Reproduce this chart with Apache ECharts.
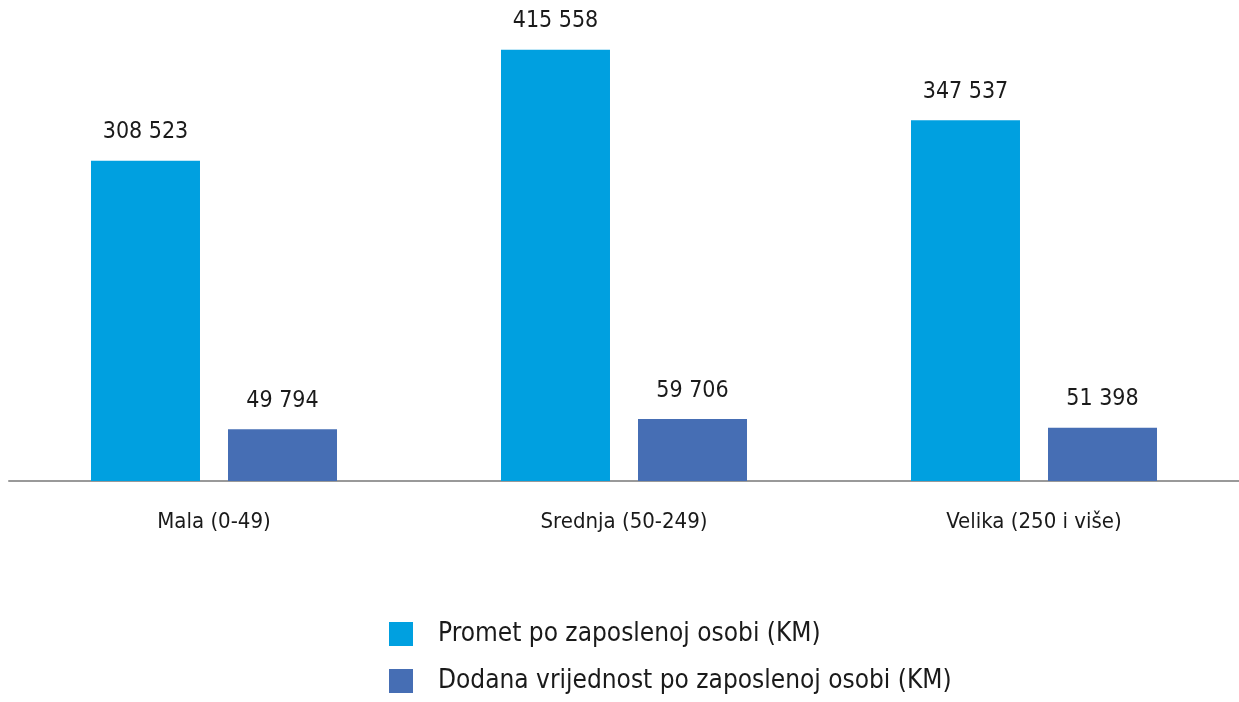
<!DOCTYPE html>
<html>
<head>
<meta charset="utf-8">
<script src="https://cdn.jsdelivr.net/npm/echarts@6/dist/echarts.min.js"></script>
<style>html,body{margin:0;padding:0;background:#fff;}#c{width:1239px;height:702px;}</style>
</head>
<body>
<div id="c"></div>
<script>
const categories = ['Mala (0-49)', 'Srednja (50-249)', 'Velika (250 i više)'];
const seriesNames = ['Promet po zaposlenoj osobi (KM)', 'Dodana vrijednost po zaposlenoj osobi (KM)'];
const promet = [308523, 415558, 347537];
const dodana = [49794, 59706, 51398];
const colors = ['#00A0E0', '#466EB4'];

const FONT = '"Liberation Sans Narrow", "DejaVu Sans Condensed", sans-serif';
const fmt = v => String(v).replace(/\B(?=(\d{3})+(?!\d))/g, ' ');

const chart = echarts.init(document.getElementById('c'));
function mkSeries(name, data, color) {
  return {
    name: name, type: 'bar', data: data, barWidth: 109, barGap: '25.7%',
    itemStyle: { color: color },
    label: { show: true, position: 'top', distance: 17, fontFamily: FONT, fontSize: 23, color: '#1a1a1a',
      formatter: p => fmt(p.value) }
  };
}
function mkLegend(name, top) {
  return {
    orient: 'vertical', left: 384, top: top, itemWidth: 24, itemHeight: 24,
    icon: 'rect', selectedMode: false,
    textStyle: { fontFamily: FONT, fontSize: 26, color: '#1a1a1a', padding: [0, 0, 0, 20] },
    data: [name]
  };
}
chart.setOption({
  animation: false,
  textStyle: { fontFamily: FONT },
  grid: { left: 9, right: 0, top: 14, bottom: 221, containLabel: false },
  xAxis: {
    type: 'category', data: categories,
    axisLine: { lineStyle: { color: '#999999', width: 2 } },
    axisTick: { show: false },
    axisLabel: { margin: 30, fontFamily: FONT, fontSize: 22, color: '#1a1a1a' }
  },
  yAxis: { type: 'value', min: 0, max: 450000, show: false, splitLine: { show: false } },
  legend: [mkLegend(seriesNames[0], 616), mkLegend(seriesNames[1], 663)],
  series: [mkSeries(seriesNames[0], promet, colors[0]), mkSeries(seriesNames[1], dodana, colors[1])]
});
</script>
</body>
</html>
